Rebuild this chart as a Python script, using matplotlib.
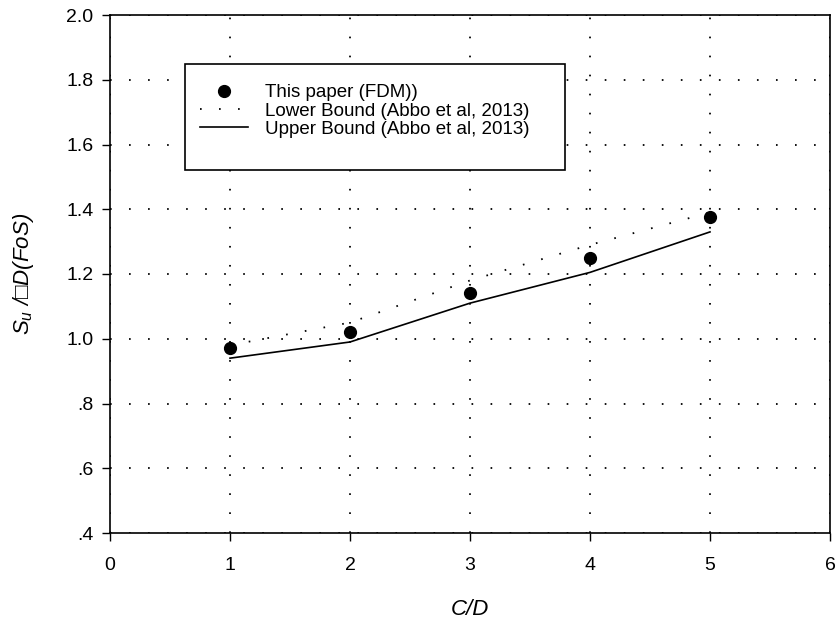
import matplotlib
matplotlib.use("Agg")
from matplotlib import pyplot as plt
from matplotlib.patches import Rectangle

plt.rcParams["font.family"] = ["Liberation Sans", "DejaVu Sans"]
plt.rcParams["mathtext.fontset"] = "custom"
plt.rcParams["mathtext.rm"] = "Liberation Sans"
plt.rcParams["mathtext.it"] = "Liberation Sans:italic"
plt.rcParams["lines.scale_dashes"] = False

cd = [1, 2, 3, 4, 5]
fdm = [0.97, 1.02, 1.14, 1.25, 1.375]
lower = [0.98, 1.05, 1.18, 1.29, 1.39]
upper = [0.94, 0.99, 1.11, 1.205, 1.33]

yticks = [0.4, 0.6, 0.8, 1.0, 1.2, 1.4, 1.6, 1.8, 2.0]
ytick_labels = [".4", ".6", ".8", "1.0", "1.2", "1.4", "1.6", "1.8", "2.0"]

W, H = 839, 624
fig = plt.figure(figsize=(W/100, H/100), dpi=100)
ax = fig.add_axes([110/W, 1-533/H, 720/W, 518/H])

ax.plot(cd, fdm, "o", color="black", markersize=8.5, label="This paper (FDM))")
ax.plot(cd, lower, color="black", lw=1.3, linestyle=(0, (1.2, 12.5)),
        label="Lower Bound (Abbo et al, 2013)")
ax.plot(cd, upper, color="black", lw=1.2, label="Upper Bound (Abbo et al, 2013)")

ax.set_xlim(0, 6)
ax.set_ylim(0.4, 2.0)
ax.set_xticks(range(0, 7))
ax.set_yticks(yticks)
ax.set_yticklabels(ytick_labels)
ax.tick_params(direction="out", length=6, width=1, labelsize=14)
ax.tick_params(axis="x", pad=11.5)
ax.tick_params(axis="y", pad=6)

for s in ax.spines.values():
    s.set_linewidth(1.2)

#网格
ax.grid(color="black", lw=1.3, linestyle=(0, (1.2, 12.5)))

ax.set_xlabel("C/D", fontsize=16, style="italic", labelpad=18)
ax.set_ylabel("$S_u$ /\u25a1D(FoS)", fontsize=16, style="italic", labelpad=22)

# legend box drawn by hand, legend itself without frame
box = Rectangle((185/W, 1-170/H), 380/W, 106/H, transform=fig.transFigure,
                facecolor="white", edgecolor="black", lw=1.2, zorder=2)
fig.add_artist(box)
handles, labels = ax.get_legend_handles_labels()
leg = fig.legend(handles, labels, loc="upper left", bbox_to_anchor=(200/W, 1-84/H),
                 borderaxespad=0, borderpad=0, frameon=False, fontsize=13.5,
                 handlelength=2.56, handletextpad=0.9, labelspacing=0.07)
leg.set_zorder(3)

fig.savefig("out.png", dpi=100)
